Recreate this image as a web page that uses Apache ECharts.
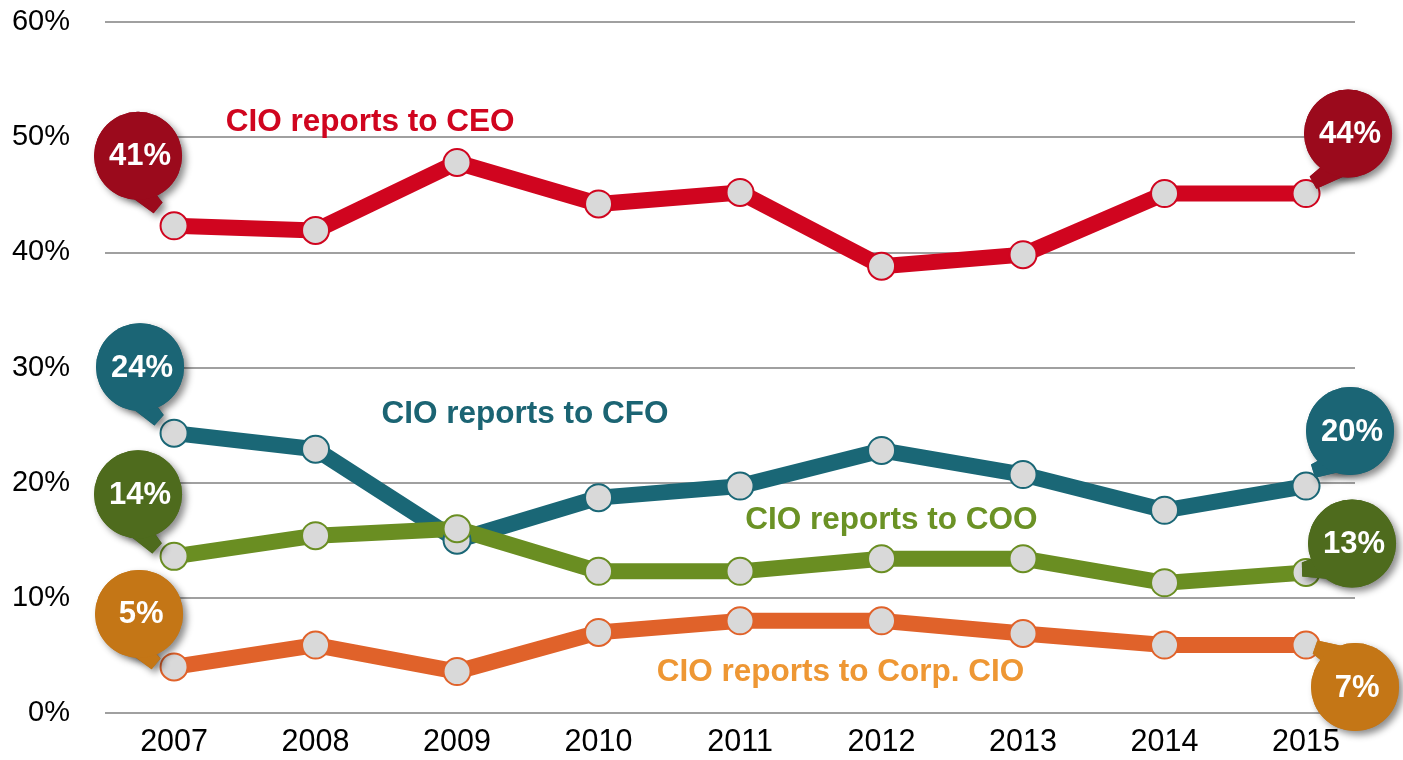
<!DOCTYPE html>
<html><head><meta charset="utf-8">
<script src="https://cdn.jsdelivr.net/npm/echarts@6/dist/echarts.min.js"></script>
<style>html,body{margin:0;padding:0;background:#fff}#c{width:1403px;height:760px}</style>
</head><body><div id="c"></div>
<script>
// ---- data ----
const years = [2007, 2008, 2009, 2010, 2011, 2012, 2013, 2014, 2015];
const seriesNames = ['CIO reports to CEO', 'CIO reports to CFO', 'CIO reports to COO', 'CIO reports to Corp. CIO'];
const ceo  = [42.3, 41.9, 47.8, 44.2, 45.2, 38.8, 39.8, 45.1, 45.1];
const cfo  = [24.3, 22.9, 15.0, 18.7, 19.7, 22.8, 20.7, 17.6, 19.7];
const coo  = [13.6, 15.4, 16.0, 12.3, 12.3, 13.4, 13.4, 11.3, 12.2];
const corp = [4.0, 5.9, 3.6, 7.0, 8.0, 8.0, 6.9, 5.9, 5.9];
const ceoEnds  = ['41%', '44%'];
const cfoEnds  = ['24%', '20%'];
const cooEnds  = ['14%', '13%'];
const corpEnds = ['5%', '7%'];

// ---- styles / annotation placement ----
const FONT = '"Liberation Sans", Arial, Helvetica, sans-serif';
const seriesData = [ceo, cfo, coo, corp];
const endLabels = [ceoEnds, cfoEnds, cooEnds, corpEnds];
const styles = [
  { line: '#d0051f', bubble: '#9b0a1c', text: '#d0051f', labelAt: [2008.385, 51.3],
    b: [{dx: -36, dy: -70, tx: -16, ty: -18, skew: 30}, {dx: 42, dy: -60, tx: 7, ty: -11, skew: -30}] },
  { line: '#1a6776', bubble: '#1b6575', text: '#1b6473', labelAt: [2009.48, 25.9],
    b: [{dx: -34, dy: -66, tx: -15, ty: -13, skew: 30}, {dx: 44, dy: -55, tx: 7, ty: -15, skew: -30}] },
  { line: '#6a8e22', bubble: '#4e6b1d', text: '#6b9225', labelAt: [2012.07, 16.7],
    b: [{dx: -36, dy: -62, tx: -17, ty: -8, skew: 30}, {dx: 46, dy: -29, tx: -4, ty: -3, skew: -25}] },
  { line: '#e0622a', bubble: '#c47616', text: '#ee9734', labelAt: [2011.71, 3.5],
    b: [{dx: -35, dy: -53, tx: -18, ty: -3, skew: 30}, {dx: 49, dy: 42, tx: 9, ty: 2, skew: 25}] }
];

const bubbleItems = [];
styles.forEach((s, i) => {
  [0, years.length - 1].forEach((idx, k) => {
    const o = s.b[k];
    bubbleItems.push({ x: years[idx], y: seriesData[i][idx], text: endLabels[i][k], color: s.bubble,
      dx: o.dx, dy: o.dy, tx: o.tx, ty: o.ty, skew: o.skew });
  });
});

function renderBubble(params, api) {
  const b = bubbleItems[params.dataIndex];
  const p = api.coord([b.x, b.y]);
  const r = 44;
  const cx = p[0] + b.dx, cy = p[1] + b.dy;
  const tx = p[0] + b.tx, ty = p[1] + b.ty;
  const th = Math.atan2(ty - cy, tx - cx);
  const sk = b.skew * Math.PI / 180, half = 32 * Math.PI / 180;
  const a1 = th + sk - half, a2 = th + sk + half;
  const rr = r * 0.85;
  const b1 = [cx + rr * Math.cos(a1), cy + rr * Math.sin(a1)];
  const b2 = [cx + rr * Math.cos(a2), cy + rr * Math.sin(a2)];
  const mx = (b1[0] + b2[0]) / 2, my = (b1[1] + b2[1]) / 2;
  const dxv = tx - mx, dyv = ty - my;
  const L = Math.hypot(dxv, dyv) || 1;
  const nx = dyv / L * 7, ny = -dxv / L * 7;
  const pts = [b1, [tx + nx, ty + ny], [tx - nx, ty - ny], b2];
  const shadow = { shadowBlur: 7, shadowOffsetX: 4, shadowOffsetY: 4, shadowColor: 'rgba(0,0,0,0.45)' };
  return {
    type: 'group',
    children: [
      { type: 'polygon', shape: { points: pts }, style: Object.assign({ fill: b.color }, shadow) },
      { type: 'circle', shape: { cx: cx, cy: cy, r: r }, style: Object.assign({ fill: b.color }, shadow) },
      { type: 'polygon', shape: { points: pts }, style: { fill: b.color } },
      { type: 'circle', shape: { cx: cx, cy: cy, r: r }, style: { fill: b.color } },
      { type: 'text', style: { x: cx + 2, y: cy + 1, text: b.text, fill: '#fff', fontSize: 31, fontWeight: 'bold',
          fontFamily: FONT, align: 'center', verticalAlign: 'middle' } }
    ]
  };
}

const order = [3, 1, 2, 0];
const lineSeries = order.map(i => ({
  type: 'line',
  name: seriesNames[i],
  data: years.map((y, j) => [y, seriesData[i][j]]),
  symbol: 'circle',
  symbolSize: 27,
  showSymbol: true,
  lineStyle: { color: styles[i].line, width: 16 },
  itemStyle: { color: '#d9d9d9', borderColor: styles[i].line, borderWidth: 2 },
  z: 2,
  markPoint: {
    silent: true,
    symbol: 'rect',
    symbolSize: [1, 1],
    itemStyle: { color: 'rgba(0,0,0,0)' },
    label: { show: true, position: 'inside', formatter: seriesNames[i], color: styles[i].text,
      fontSize: 31.5, fontWeight: 'bold', fontFamily: FONT },
    data: [{ coord: styles[i].labelAt }]
  }
}));

const chart = echarts.init(document.getElementById('c'), null, { renderer: 'canvas' });
chart.setOption({
  animation: false,
  backgroundColor: '#fff',
  grid: { left: 105, right: 48, top: 22, bottom: 47, containLabel: false },
  xAxis: {
    type: 'value', min: 2006.512, max: 2015.346,
    axisLine: { show: false }, axisTick: { show: false }, splitLine: { show: false },
    axisLabel: { customValues: years, formatter: v => String(v), fontSize: 30.5, color: '#000',
      fontFamily: FONT, margin: 14 }
  },
  yAxis: {
    type: 'value', min: 0, max: 60, interval: 10,
    axisLine: { show: false }, axisTick: { show: false },
    splitLine: { lineStyle: { color: '#808080', width: 1.5 } },
    axisLabel: { formatter: '{value}%', fontSize: 29, color: '#000', fontFamily: FONT, margin: 35 }
  },
  series: lineSeries.concat([{
    type: 'custom',
    coordinateSystem: 'cartesian2d',
    renderItem: renderBubble,
    data: bubbleItems.map(b => [b.x, b.y]),
    encode: { x: 0, y: 1 },
    silent: true,
    clip: false,
    z: 10
  }])
});
</script>
</body></html>
